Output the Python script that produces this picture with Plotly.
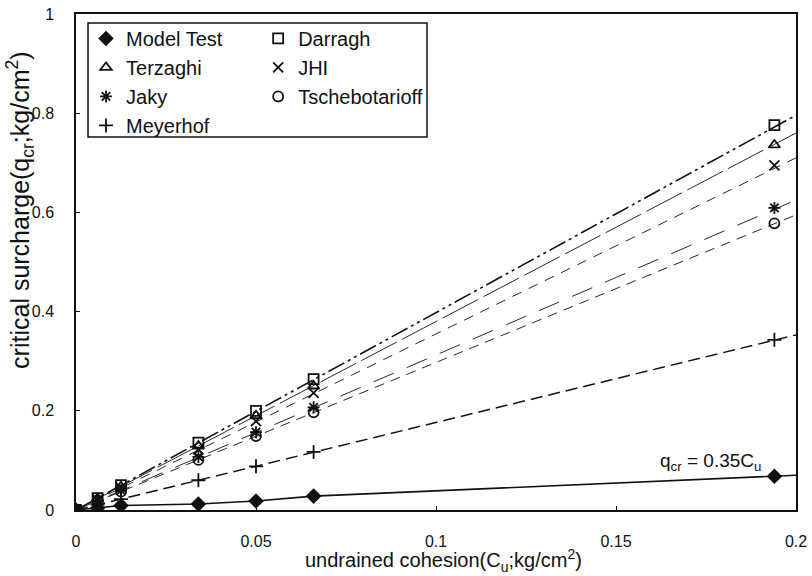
import plotly.graph_objects as go

# ---- data ----
cohesion = [0, 0.006, 0.0125, 0.034, 0.05, 0.066, 0.194]
model_test = [0, 0.004, 0.009, 0.012, 0.018, 0.028, 0.068]
darragh = [0, 0.024, 0.05, 0.136, 0.2, 0.264, 0.776]
terzaghi = [0, 0.023, 0.047, 0.129, 0.19, 0.25, 0.736]
jhi = [0, 0.021, 0.045, 0.122, 0.179, 0.236, 0.695]
jaky = [0, 0.019, 0.039, 0.107, 0.157, 0.207, 0.609]
tscheb = [0, 0.018, 0.037, 0.101, 0.149, 0.197, 0.578]
meyerhof = [0, 0.011, 0.022, 0.06, 0.088, 0.117, 0.343]

# trend lines: start (0,0) -> end at x = 0.2
trend_x = [0, 0.2]
trend_end = {
    "Darragh": 0.796,
    "Terzaghi": 0.76,
    "JHI": 0.71,
    "Jaky": 0.625,
    "Tschebotarioff": 0.595,
    "Meyerhof": 0.353,
}
model_line_end = 0.07

x_ticks = [0, 0.05, 0.1, 0.15, 0.2]
x_tick_text = ["0", "0.05", "0.1", "0.15", "0.2"]
y_ticks = [0, 0.2, 0.4, 0.6, 0.8, 1]
y_tick_text = ["0", "0.2", "0.4", "0.6", "0.8", "1"]

FONT = "Liberation Sans, Arial, Helvetica, sans-serif"
BLACK = "#111111"

fig = go.Figure()

# trend lines
line_styles = {
    "Darragh": dict(dash="18px,4px,3px,4px,3px,4px", width=1.6),
    "Terzaghi": dict(dash="40px,6px", width=0.9),
    "JHI": dict(dash="10px,8px", width=0.9),
    "Jaky": dict(dash="22px,14px", width=0.9),
    "Tschebotarioff": dict(dash="10px,7px", width=0.9),
    "Meyerhof": dict(dash="12px,6px", width=1.5),
}
for name, end in trend_end.items():
    st = line_styles[name]
    fig.add_trace(go.Scatter(
        x=trend_x, y=[0, end], mode="lines", showlegend=False,
        line=dict(color=BLACK, width=st["width"], dash=st["dash"]),
        hoverinfo="skip"))

# model test line (connecting points, extended to right edge)
fig.add_trace(go.Scatter(
    x=cohesion + [0.2], y=model_test + [model_line_end], mode="lines",
    showlegend=False, line=dict(color=BLACK, width=1.6), hoverinfo="skip"))

series = [
    ("Model Test", model_test, "diamond", 10, "legend"),
    ("Terzaghi", terzaghi, "triangle-up-open", 10, "legend"),
    ("Jaky", jaky, "asterisk-open", 10, "legend"),
    ("Meyerhof", meyerhof, "cross-thin-open", 10, "legend"),
    ("Darragh", darragh, "square-open", 10, "legend2"),
    ("JHI", jhi, "x-thin-open", 10, "legend2"),
    ("Tschebotarioff", tscheb, "circle-open", 10, "legend2"),
]
for name, ys, sym, size, lg in series:
    fig.add_trace(go.Scatter(
        x=cohesion, y=ys, mode="markers", name=name, legend=lg,
        marker=dict(symbol=sym, size=size, color=BLACK,
                    line=dict(color=BLACK, width=1.8))))

# invisible trace that carries the overlay axes (inside tick marks)
fig.add_trace(go.Scatter(x=[None], y=[None], xaxis="x2", yaxis="y2",
                         showlegend=False, hoverinfo="skip"))

legend_common = dict(
    xanchor="left", yanchor="top", bgcolor="rgba(0,0,0,0)", borderwidth=0,
    font=dict(family=FONT, size=20, color=BLACK), itemwidth=30,
    tracegroupgap=0,
)

fig.update_layout(
    width=812, height=576,
    margin=dict(l=76, r=16, t=14, b=66),
    paper_bgcolor="white", plot_bgcolor="white",
    font=dict(family=FONT, size=16, color=BLACK),
    xaxis=dict(range=[0, 0.2], tickvals=x_ticks, ticktext=x_tick_text,
               showline=True, mirror=True, linecolor=BLACK, linewidth=1.5,
               ticks="outside", ticklen=16, tickcolor="white", tickwidth=1,
               showgrid=False, zeroline=False, automargin=False,
               tickfont=dict(family=FONT, size=16, color=BLACK)),
    yaxis=dict(range=[0, 1], tickvals=y_ticks, ticktext=y_tick_text,
               showline=True, mirror=True, linecolor=BLACK, linewidth=1.5,
               ticks="outside", ticklen=17, tickcolor="white", tickwidth=1,
               showgrid=False, zeroline=False, automargin=False,
               tickfont=dict(family=FONT, size=16, color=BLACK)),
    xaxis2=dict(overlaying="x", matches="x", side="bottom", range=[0, 0.2],
                tickvals=x_ticks, ticks="inside", ticklen=4, tickcolor=BLACK,
                showticklabels=False, showline=False, showgrid=False,
                zeroline=False),
    yaxis2=dict(overlaying="y", matches="y", side="left", range=[0, 1],
                tickvals=y_ticks, ticks="inside", ticklen=4, tickcolor=BLACK,
                showticklabels=False, showline=False, showgrid=False,
                zeroline=False),
    legend=dict(x=0.0139, y=0.99, **legend_common),
    legend2=dict(x=0.253, y=0.99, **legend_common),
    shapes=[dict(type="rect", xref="paper", yref="paper",
                 x0=0.0167, x1=0.4875, y0=0.752, y1=0.982,
                 line=dict(color=BLACK, width=1.5), fillcolor="rgba(0,0,0,0)")],
    annotations=[
        dict(x=0.1762, y=0.097, xref="x", yref="y",
             text="q<sub>cr</sub> = 0.35C<sub>u</sub>", showarrow=False,
             font=dict(family=FONT, size=19, color=BLACK)),
        dict(x=-0.0778, y=0.605, xref="paper", yref="paper", textangle=-90,
             text="critical surcharge(q<sub>cr</sub>;kg/cm<sup>2</sup>)",
             showarrow=False, xanchor="center", yanchor="middle",
             font=dict(family=FONT, size=25, color=BLACK)),
        dict(x=0.51, y=-0.101, xref="paper", yref="paper",
             text="undrained cohesion(C<sub>u</sub>;kg/cm<sup>2</sup>)",
             showarrow=False, xanchor="center", yanchor="middle",
             font=dict(family=FONT, size=20, color=BLACK)),
    ],
)

fig.write_html("out.html")
